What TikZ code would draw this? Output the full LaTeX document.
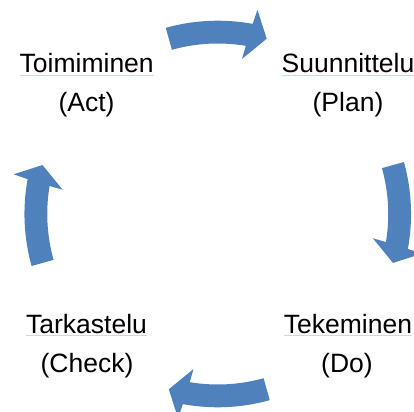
\documentclass[tikz,border=0pt]{standalone}
\usepackage{fontspec}
\setmainfont{Liberation Sans}
\usetikzlibrary{calc}

\definecolor{cyclefill}{RGB}{79,129,189}
\definecolor{spellmark}{RGB}{246,200,200}

% One curved block arrow of the cycle, centred on the axis angle #1,
% running clockwise around the point C.
\newcommand\cyclearrow[1]{%
  \fill[cyclefill]
    ($(C)+(#1+15.6:193.3bp)$)
      arc[start angle={#1+15.6}, end angle={#1-10.4}, radius=193.3bp]
    -- ($(C)+(#1-11:208bp)$)
    -- ($(C)+(#1-15.6:182bp)$)
    -- ($(C)+(#1-8.9:157bp)$)
    -- ($(C)+(#1-9.46:170.5bp)$)
      arc[start angle={#1-9.46}, end angle={#1+15.6}, radius=170.5bp]
    -- cycle;}

\tikzset{
  lbl/.style={anchor=base, inner sep=0pt, outer sep=0pt, text=black,
    font=\fontsize{26.5bp}{31bp}\selectfont},
  spell/.style={draw=spellmark, line width=0.6bp}
}

\begin{document}
\begin{tikzpicture}[x=1bp, y=1bp]
  \clip (0,0) rectangle (414,412);
  \fill[white] (0,0) rectangle (414,412);

  \coordinate (C) at (217.75,198);

  % the four arrows of the cycle
  \cyclearrow{90}
  \cyclearrow{0}
  \cyclearrow{-90}
  \cyclearrow{180}

  % phase labels
  \node[lbl] (act)   at (86.7,339.5) {Toimiminen};
  \node[lbl] (actEn) at (86.5,300.5) {(Act)};
  \node[lbl] (plan)   at (348,339.5) {Suunnittelu};
  \node[lbl] (planEn) at (348,300.5) {(Plan)};
  \node[lbl] (check)   at (86.5,79) {Tarkastelu};
  \node[lbl] (checkEn) at (87,40) {(Check)};
  \node[lbl] (do)   at (348,79) {Tekeminen};
  \node[lbl] (doEn) at (347,40) {(Do)};

  % faint underlines beneath the Finnish words
  \foreach \w in {act,plan,check,do}
    \draw[spell] ([yshift=-2.5bp]\w.base west) -- ([yshift=-2.5bp]\w.base east);
\end{tikzpicture}
\end{document}
